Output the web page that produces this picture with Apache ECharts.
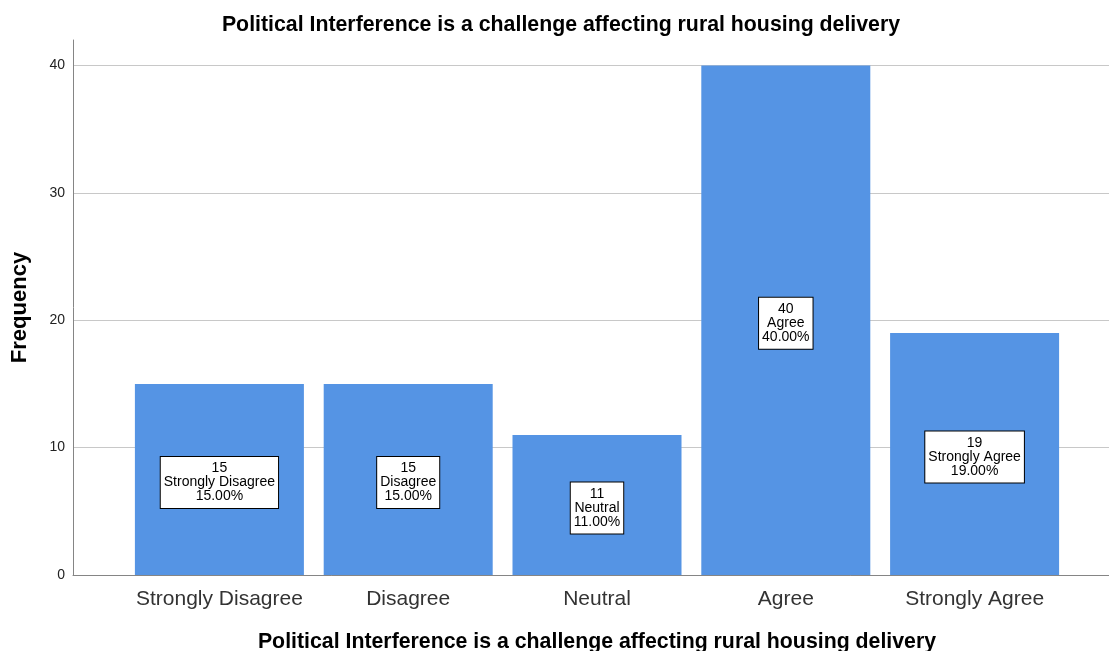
<!DOCTYPE html>
<html>
<head>
<meta charset="utf-8">
<script src="https://cdn.jsdelivr.net/npm/echarts@6/dist/echarts.min.js"></script>
<style>
  html, body { margin: 0; padding: 0; background: #fff; }
  #chart { width: 1109px; height: 651px; }
</style>
</head>
<body>
<div id="chart"></div>
<script>
const categories = ['Strongly Disagree', 'Disagree', 'Neutral', 'Agree', 'Strongly Agree'];
const frequencies = [15, 15, 11, 40, 19];
const yTicks = [0, 10, 20, 30, 40];
const titleText = 'Political Interference is a challenge affecting rural housing delivery';

const total = frequencies.reduce((a, b) => a + b, 0);
const FONT = '"Liberation Sans", Arial, sans-serif';

const chart = echarts.init(document.getElementById('chart'));
chart.setOption({
  backgroundColor: '#ffffff',
  animation: false,
  textStyle: { fontFamily: FONT },
  title: {
    text: titleText,
    left: 556,
    textAlign: 'center',
    top: 10,
    textStyle: { fontFamily: FONT, fontSize: 21.3, fontWeight: 'bold', color: '#000' }
  },
  grid: [
    { left: 73, right: 0, top: 40, bottom: 76, outerBoundsMode: 'none', containLabel: false },
    { left: 125, right: 40, top: 40, bottom: 76, outerBoundsMode: 'none', containLabel: false }
  ],
  xAxis: [
    {
      gridIndex: 0, type: 'value', min: 0, max: 1,
      axisLine: { show: true, lineStyle: { color: '#858585', width: 1 } },
      axisTick: { show: false }, axisLabel: { show: false }, splitLine: { show: false }
    },
    {
      gridIndex: 1, type: 'category', data: categories,
      axisLine: { show: false }, axisTick: { show: false },
      axisLabel: { fontFamily: FONT, fontSize: 21, color: '#333', margin: 14, interval: 0 },
      name: titleText, nameLocation: 'middle', nameGap: 57,
      nameTextStyle: { fontFamily: FONT, fontSize: 21.3, fontWeight: 'bold', color: '#000' }
    }
  ],
  yAxis: [
    {
      gridIndex: 0, type: 'value', min: 0, max: 42, interval: 10,
      axisLine: { show: true, lineStyle: { color: '#858585', width: 1 } },
      axisTick: { show: false },
      axisLabel: {
        fontFamily: FONT, fontSize: 14, color: '#222', margin: 8,
        formatter: v => (yTicks.indexOf(v) >= 0 ? String(v) : '')
      },
      splitLine: { show: true, showMaxLine: false, lineStyle: { color: '#c8c8c8', width: 1 } },
      name: 'Frequency', nameLocation: 'middle', nameGap: 42, nameRotate: 90,
      nameTextStyle: { fontFamily: FONT, fontSize: 22, fontWeight: 'bold', color: '#000' }
    },
    {
      gridIndex: 1, type: 'value', min: 0, max: 42, interval: 10, show: false,
      splitLine: { show: false }
    }
  ],
  series: [{
    type: 'bar',
    xAxisIndex: 1, yAxisIndex: 1,
    data: frequencies,
    barWidth: 169,
    itemStyle: { color: '#5594E4' },
    label: {
      show: true,
      position: 'inside',
      offset: [0, 3],
      formatter: p => p.value + '\n' + p.name + '\n' + (p.value / total * 100).toFixed(2) + '%',
      fontFamily: FONT, fontSize: 14, lineHeight: 14, color: '#000',
      backgroundColor: '#fff', borderColor: '#000', borderWidth: 1,
      padding: [5, 3, 4, 3], align: 'center'
    }
  }]
});
</script>
</body>
</html>
